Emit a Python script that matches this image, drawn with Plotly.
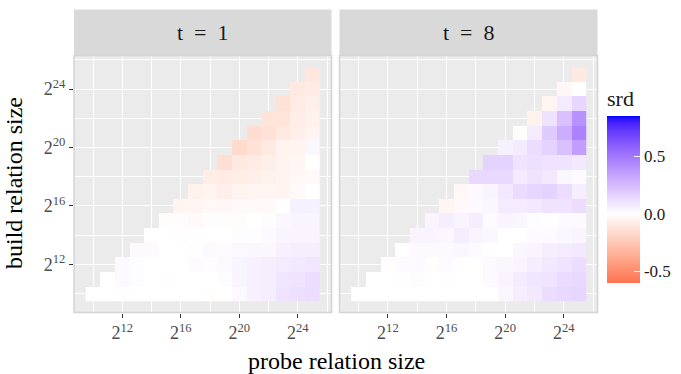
import plotly.graph_objects as go
import numpy as np

# ---------------- data ----------------
log2_probe = [10, 11, 12, 13, 14, 15, 16, 17, 18, 19, 20, 21, 22, 23, 24, 25]
log2_build = [10, 11, 12, 13, 14, 15, 16, 17, 18, 19, 20, 21, 22, 23, 24, 25]
facet_labels = ["t\u00a0\u00a0=\u00a0\u00a01", "t\u00a0\u00a0=\u00a0\u00a08"]

# srd values, one row per build size (10..25); each row lists probe sizes from build..25
srd_t1 = [
    [0.0, 0.0, 0.005, 0.0, 0.0, 0.0, 0.0, 0.0, -0.005, 0.0, 0.025, 0.05, 0.06, 0.10, 0.11, 0.12],
    [0.0, 0.02, 0.01, 0.0, 0.005, 0.0, 0.0, 0.0, 0.01, 0.035, 0.05, 0.06, 0.09, 0.10, 0.12],
    [0.02, 0.01, 0.0, 0.0, 0.0, 0.015, 0.01, 0.025, 0.035, 0.05, 0.06, 0.07, 0.08, 0.09],
    [0.02, 0.02, 0.0, 0.0, 0.005, 0.02, 0.015, 0.025, 0.03, 0.03, 0.05, 0.06, 0.06],
    [0.0, 0.0, 0.005, 0.0, 0.0, 0.0, 0.01, 0.01, 0.02, 0.035, 0.04, 0.04],
    [-0.01, -0.01, -0.02, -0.01, -0.01, -0.01, 0.0, 0.01, 0.03, 0.035, 0.035],
    [-0.05, -0.04, -0.03, -0.03, -0.02, -0.02, -0.02, 0.0, 0.05, 0.05],
    [-0.06, -0.05, -0.07, -0.05, -0.04, -0.04, -0.05, -0.02, 0.0],
    [-0.08, -0.09, -0.08, -0.07, -0.06, -0.05, -0.03, -0.02],
    [-0.14, -0.10, -0.09, -0.07, -0.05, -0.04, 0.0],
    [-0.16, -0.13, -0.10, -0.05, -0.05, 0.03],
    [-0.15, -0.13, -0.10, -0.07, -0.05],
    [-0.12, -0.12, -0.08, -0.06],
    [-0.13, -0.09, -0.07],
    [-0.10, -0.09],
    [-0.11],
]
srd_t8 = [
    [0.0, 0.0, 0.0, 0.0, 0.0, 0.0, 0.0, 0.0, 0.0, 0.0, 0.03, 0.06, 0.08, 0.12, 0.14, 0.15],
    [0.0, 0.0, 0.005, 0.01, 0.0, 0.005, 0.0, 0.0, 0.02, 0.04, 0.07, 0.09, 0.10, 0.13, 0.14],
    [-0.005, 0.015, 0.02, -0.005, 0.015, 0.0, 0.0, 0.02, 0.03, 0.04, 0.06, 0.08, 0.10, 0.12],
    [0.0, 0.02, 0.02, 0.02, 0.03, 0.015, 0.0, 0.0, 0.03, 0.04, 0.06, 0.07, 0.08],
    [0.04, 0.04, 0.03, 0.06, 0.04, 0.03, 0.0, 0.0, 0.015, 0.015, 0.03, 0.04],
    [0.04, 0.06, 0.04, 0.06, 0.015, 0.04, 0.03, 0.01, 0.0, 0.015, 0.02],
    [-0.04, -0.02, 0.02, 0.03, 0.07, 0.07, 0.08, 0.10, 0.10, 0.12],
    [-0.03, 0.02, 0.04, 0.08, 0.13, 0.15, 0.16, 0.12, 0.06],
    [0.14, 0.14, 0.14, 0.07, 0.10, 0.08, 0.03, 0.015],
    [0.16, 0.16, 0.10, 0.11, 0.10, 0.10, 0.08],
    [0.05, 0.07, 0.12, 0.16, 0.23, 0.36],
    [-0.01, 0.07, 0.19, 0.30, 0.46],
    [-0.06, 0.10, 0.23, 0.40],
    [-0.04, 0.07, 0.15],
    [-0.03, 0.0],
    [-0.10],
]

x_tickvals = [12, 16, 20, 24]
x_ticktext = ["2<sup>12</sup>", "2<sup>16</sup>", "2<sup>20</sup>", "2<sup>24</sup>"]
cbar_ticks = [-0.5, 0.0, 0.5]
cbar_ticktext = ["-0.5", "0.0", "0.5"]
srd_limits = [-0.6, 0.85]

# ---------------- colour scale (ggplot gradient2, Lab interpolation) ----------------
WHITE_D65 = np.array([0.95047, 1.0, 1.08883])
M = np.array([[0.4124564, 0.3575761, 0.1804375],
              [0.2126729, 0.7151522, 0.0721750],
              [0.0193339, 0.1191920, 0.9503041]])
Minv = np.linalg.inv(M)


def to_lab(rgb):
    c = np.array(rgb) / 255.0
    lin = np.where(c <= 0.04045, c / 12.92, ((c + 0.055) / 1.055) ** 2.4)
    xyz = M @ lin / WHITE_D65
    f = np.where(xyz > 216 / 24389, np.cbrt(xyz), (24389 / 27 * xyz + 16) / 116)
    return np.array([116 * f[1] - 16, 500 * (f[0] - f[1]), 200 * (f[1] - f[2])])


def from_lab(lab):
    L, a, b = lab
    fy = (L + 16) / 116
    fx = fy + a / 500
    fz = fy - b / 200
    f = np.array([fx, fy, fz])
    xyz = np.where(f ** 3 > 216 / 24389, f ** 3, (116 * f - 16) / (24389 / 27)) * WHITE_D65
    lin = Minv @ xyz
    lin = np.clip(lin, 0, 1)
    c = np.where(lin <= 0.0031308, 12.92 * lin, 1.055 * lin ** (1 / 2.4) - 0.055)
    c = np.clip(np.round(c * 255), 0, 255).astype(int)
    return "rgb(%d,%d,%d)" % tuple(c)


low_lab, mid_lab, high_lab = to_lab((255, 0, 0)), to_lab((255, 255, 255)), to_lab((0, 0, 255))
vmax = max(abs(srd_limits[0]), abs(srd_limits[1]))
colorscale = []
for v in np.linspace(srd_limits[0], srd_limits[1], 59):
    t = abs(v) / vmax
    end = low_lab if v < 0 else high_lab
    col = from_lab(mid_lab + (end - mid_lab) * t)
    colorscale.append([(v - srd_limits[0]) / (srd_limits[1] - srd_limits[0]), col])
colorscale[0][0] = 0.0
colorscale[-1][0] = 1.0


def to_matrix(rows):
    z = []
    for i, b in enumerate(log2_build):
        row = []
        for p in log2_probe:
            row.append(rows[i][p - b] if p >= b else None)
        z.append(row)
    return z


# ---------------- figure ----------------
W, H = 681, 374
FONT = "Liberation Serif"

def px(x):
    return x / W

def py(y):
    return 1 - y / H

panel_x = [(74, 331.5), (339.5, 597.5)]
panel_y = (55.5, 312.5)
strip_y = (9.5, 55.5)

fig = go.Figure()
for k, rows in enumerate([srd_t1, srd_t8]):
    fig.add_trace(go.Heatmap(
        x=log2_probe, y=log2_build, z=to_matrix(rows),
        coloraxis="coloraxis", xaxis="x" if k == 0 else "x2", yaxis="y" if k == 0 else "y2",
        hoverongaps=False,
    ))

axis_common = dict(
    range=[8.7, 26.3], showgrid=True, gridcolor="white", gridwidth=1.1, zeroline=False,
    minor=dict(tickvals=[10, 14, 18, 22, 26], showgrid=True, gridcolor="white", gridwidth=0.5),
    tickvals=x_tickvals, ticktext=x_ticktext, ticks="outside", ticklen=4, tickwidth=1.1,
    tickcolor="#333333", tickfont=dict(family=FONT, size=18, color="#4D4D4D"),
    showline=False, fixedrange=True,
)

cbar_bottom = 283
cbar_top_title = 86

fig.update_layout(
    width=W, height=H, margin=dict(l=0, r=0, t=0, b=0),
    paper_bgcolor="white", plot_bgcolor="#EBEBEB",
    font=dict(family=FONT, color="#1A1A1A"),
    xaxis=dict(axis_common, domain=[px(panel_x[0][0]), px(panel_x[0][1])], anchor="y"),
    xaxis2=dict(axis_common, domain=[px(panel_x[1][0]), px(panel_x[1][1])], anchor="y2"),
    yaxis=dict(axis_common, domain=[py(panel_y[1]), py(panel_y[0])], anchor="x"),
    yaxis2=dict(axis_common, domain=[py(panel_y[1]), py(panel_y[0])], anchor="x2",
                showticklabels=False, ticks=""),
    coloraxis=dict(
        colorscale=colorscale, cmin=srd_limits[0], cmax=srd_limits[1],
        colorbar=dict(
            title=dict(text="srd", side="top", font=dict(family=FONT, size=22, color="#1A1A1A")),
            x=px(607), xanchor="left", y=py(cbar_bottom), yanchor="bottom",
            len=cbar_bottom - cbar_top_title, lenmode="pixels", thickness=33, thicknessmode="pixels",
            outlinewidth=0, tickvals=cbar_ticks, ticktext=cbar_ticktext,
            ticks="inside", ticklen=6, tickcolor="white", tickwidth=1,
            tickfont=dict(family=FONT, size=17, color="#1A1A1A"),
            xpad=0, ypad=0,
        ),
    ),
    showlegend=False,
)

shapes = []
annotations = []
for k, (x0, x1) in enumerate(panel_x):
    shapes.append(dict(type="rect", xref="paper", yref="paper",
                       x0=px(x0), x1=px(x1), y0=py(strip_y[1]), y1=py(strip_y[0]),
                       fillcolor="#D9D9D9", line=dict(width=0), layer="below"))
    shapes.append(dict(type="rect", xref="paper", yref="paper",
                       x0=px(x0), x1=px(x1), y0=py(panel_y[1]), y1=py(panel_y[0]),
                       fillcolor="rgba(0,0,0,0)", line=dict(color="#D4D4D4", width=1.5),
                       layer="above"))
    annotations.append(dict(text=facet_labels[k], xref="paper", yref="paper",
                            x=px((x0 + x1) / 2), y=py((strip_y[0] + strip_y[1]) / 2),
                            showarrow=False, xanchor="center", yanchor="middle",
                            font=dict(family=FONT, size=22, color="#1A1A1A")))

annotations.append(dict(text="probe relation size", xref="paper", yref="paper",
                        x=px(336), y=py(361), showarrow=False, xanchor="center",
                        yanchor="middle", font=dict(family=FONT, size=24, color="#000000")))
annotations.append(dict(text="build relation size", xref="paper", yref="paper",
                        x=px(14), y=py(183), showarrow=False, xanchor="center",
                        yanchor="middle", textangle=-90,
                        font=dict(family=FONT, size=24, color="#000000")))
fig.update_layout(shapes=shapes, annotations=annotations)

fig.write_html("out.html")
